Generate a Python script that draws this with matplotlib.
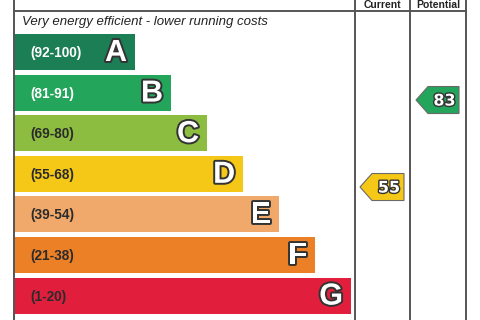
import numpy as np
import matplotlib
matplotlib.use("Agg")
from matplotlib import pyplot as plt
from matplotlib.patches import Polygon
import matplotlib.patheffects as pe

bands = ["A", "B", "C", "D", "E", "F", "G"]
ranges = ["(92-100)", "(81-91)", "(69-80)", "(55-68)", "(39-54)", "(21-38)", "(1-20)"]
colors = ["#1b7e55", "#23a55b", "#8cbd40", "#f5c818", "#f0a86b", "#ec8027", "#e11f3c"]
range_text = ["white", "white", "#2b2b2b", "#2b2b2b", "#2b2b2b", "#2b2b2b", "#2b2b2b"]
current = 55
potential = 83
current_color = "#f5c818"
potential_color = "#23a55b"

fig = plt.figure(figsize=(4.8, 3.2), dpi=100)
ax = fig.add_axes([0, 0, 1, 1])
ax.set_xlim(0, 480)
ax.set_ylim(320, 0)
ax.axis("off")

# frame
line = dict(color="#555555", lw=1.4)
ax.plot([13.5, 13.5], [0, 320], **line)
ax.plot([13.5, 466], [10.5, 10.5], **line)
for x in (355, 410, 466):
    ax.plot([x, x], [0, 320], **line)

ax.text(382, 8, "Current", ha="center", va="baseline", fontsize=7.5,
        fontweight="bold", family="Liberation Sans", color="#222222")
ax.text(438, 8, "Potential", ha="center", va="baseline", fontsize=7.5,
        fontweight="bold", family="Liberation Sans", color="#222222")
ax.text(22, 22, "Very energy efficient - lower running costs", ha="left",
        va="center", fontsize=9.5, style="italic", family="Liberation Sans",
        color="#222222")

# bands
top, pitch, h = 34, 40.6, 36
widths = 121 + 36 * np.arange(len(bands))
ys = top + pitch * np.arange(len(bands)) + h / 2
ax.barh(ys, widths, height=h, left=14, color=colors, edgecolor="none")
outline = [pe.withStroke(linewidth=2.8, foreground="#333333")]
for y, w, b, r, tc in zip(ys, widths, bands, ranges, range_text):
    ax.text(30, y + 1, r, ha="left", va="center", fontsize=9.8,
            fontweight="bold", family="Liberation Sans", color=tc)
    ax.text(14 + w - 8, y + 1, b, ha="right", va="center", fontsize=22,
            fontweight="bold", family="Liberation Sans", color="white",
            path_effects=outline)


# score -> vertical position
def score_y(s):
    return 357.9 - 3.107 * s


def arrow(x_tip, x_right, s, color):
    y = score_y(s)
    hh = 13.5
    pts = [(x_tip, y), (x_tip + 12, y - hh), (x_right, y - hh),
           (x_right, y + hh), (x_tip + 12, y + hh)]
    ax.add_patch(Polygon(pts, closed=True, facecolor=color,
                         edgecolor="#6a6a6a", lw=0.8))
    ax.text((x_tip + 12 + x_right) / 2 + 1, y + 1, str(s), ha="center",
            va="center", fontsize=11.5, fontweight="bold",
            family="DejaVu Sans", color="white",
            path_effects=[pe.withStroke(linewidth=2, foreground="#333333")])


arrow(360, 404, current, current_color)
arrow(416, 459, potential, potential_color)

fig.savefig("out.png", dpi=100)
